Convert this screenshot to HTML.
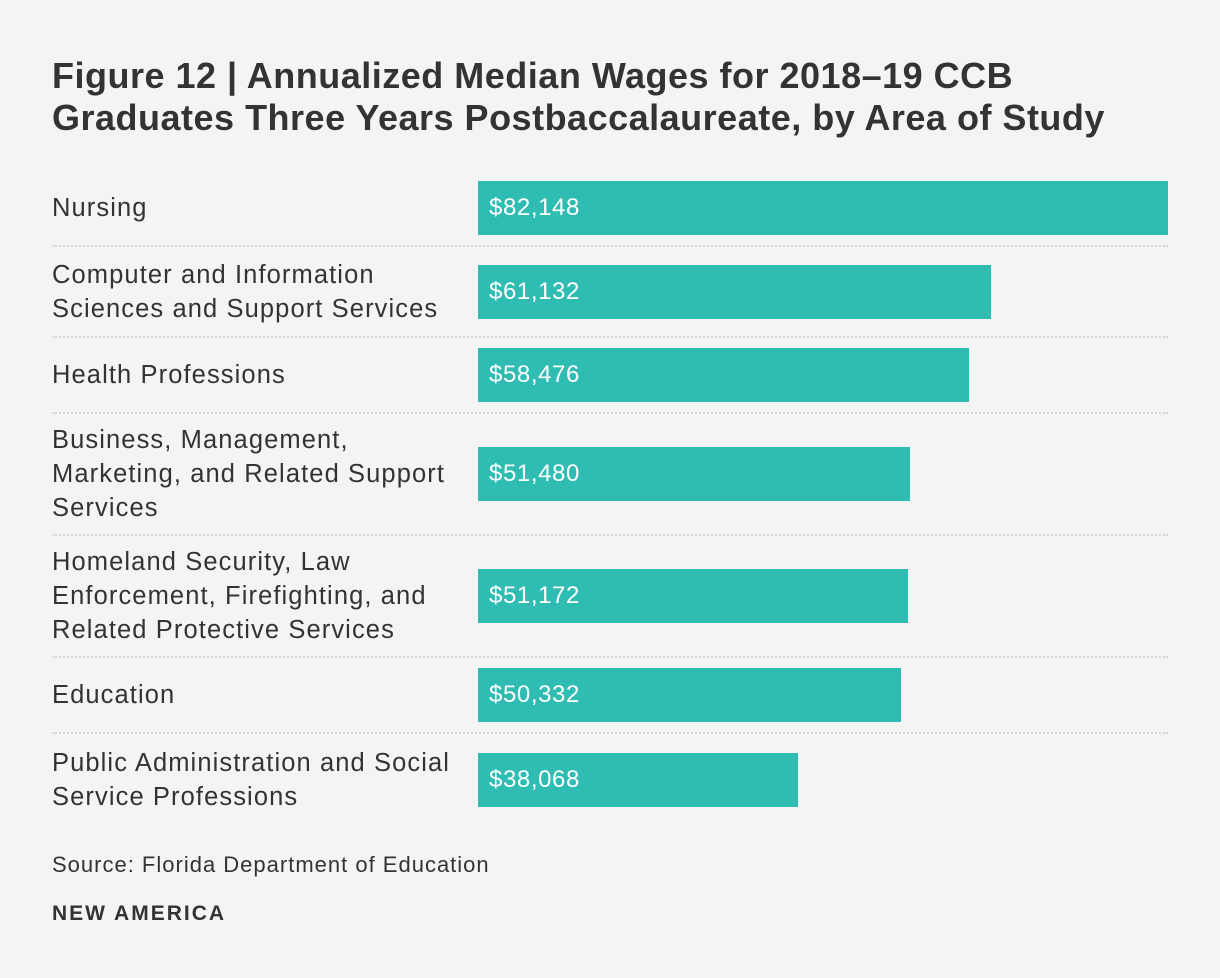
<!DOCTYPE html>
<html><head><meta charset="utf-8"><style>
body{margin:0;background:#f4f4f4;font-family:"Liberation Sans",sans-serif;color:#333;}
#wrap{position:relative;width:1220px;height:978px;overflow:hidden;}
h1{position:absolute;left:52px;top:55px;margin:0;font-size:36px;line-height:42px;font-weight:bold;color:#333;letter-spacing:0.5px;white-space:nowrap;}
#chart{position:absolute;left:52px;top:171px;width:1116px;}
.row{display:flex;align-items:center;border-bottom:2px dotted #d6d6d6;box-sizing:border-box;}
.row:last-child{border-bottom:none;}
.lab{width:426px;font-size:25.5px;line-height:34px;white-space:pre-line;color:#333;letter-spacing:1.1px;}
.bar{height:54px;background:#2fbdb3;color:#fff;font-size:24px;line-height:54px;padding-left:11px;box-sizing:border-box;white-space:nowrap;letter-spacing:0.6px;}
#src{position:absolute;left:52px;top:852px;font-size:22px;color:#333;letter-spacing:1px;}
#brand{position:absolute;left:52px;top:902px;font-size:21px;font-weight:bold;color:#333;letter-spacing:2px;}
</style></head><body>
<div id="wrap">
<h1>Figure 12 | Annualized Median Wages for 2018–19 CCB<br>Graduates Three Years Postbaccalaureate, by Area of Study</h1>
<div id="chart"></div>
<div id="src">Source: Florida Department of Education</div>
<div id="brand">NEW AMERICA</div>
</div>
<script>
const categories=["Nursing","Computer and Information\nSciences and Support Services","Health Professions","Business, Management,\nMarketing, and Related Support\nServices","Homeland Security, Law\nEnforcement, Firefighting, and\nRelated Protective Services","Education","Public Administration and Social\nService Professions"];
const values=[82148,61132,58476,51480,51172,50332,38068];
const xMax=82148;
const barAreaWidth=690;
function xScale(v){return v/xMax*barAreaWidth;}
function rowHeight(lines){return lines===1?76:(lines===2?91:122);}
const chart=document.getElementById('chart');
categories.forEach((c,i)=>{
  const row=document.createElement('div');row.className='row';
  
  
  row.style.height=rowHeight(c.split('\n').length)+'px';
  const lab=document.createElement('div');lab.className='lab';lab.textContent=c;
  
  
  const bar=document.createElement('div');bar.className='bar';
  
  
  bar.style.width=xScale(values[i])+'px';
  bar.textContent='$'+values[i].toLocaleString('en-US');
  row.appendChild(lab);row.appendChild(bar);chart.appendChild(row);
});
</script>
</body></html>
